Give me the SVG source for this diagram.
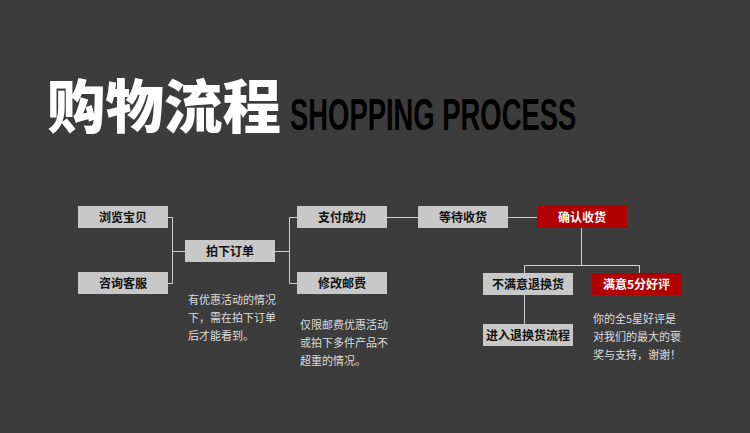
<svg xmlns="http://www.w3.org/2000/svg" width="750" height="433" viewBox="0 0 750 433">
<style>
.bx{fill:#c8c8c8}
.rd{fill:#b20000}
.bt{font-family:"Noto Sans CJK SC","Liberation Sans",sans-serif;font-size:12px;font-weight:bold;fill:#111;text-anchor:middle}
.rt{fill:#fff}
.nt{font-family:"Noto Sans CJK SC","Liberation Sans",sans-serif;font-size:11px;fill:#ddd}
.ln{fill:none;stroke:#cfcfcf;stroke-width:1}
</style>
<rect width="750" height="433" fill="#3c3c3c"/>
<text x="47" y="128" font-family="Noto Sans CJK SC, sans-serif" font-size="58" font-weight="900" fill="#fff" textLength="234" lengthAdjust="spacingAndGlyphs">购物流程</text>
<text transform="translate(290,130) scale(0.609,1)" x="0" y="0" font-family="Liberation Sans, sans-serif" font-size="45" font-weight="bold" fill="#000">SHOPPING PROCESS</text>
<g id="connectors" class="ln">
<path d="M168 217.5H172.5V283.5H168M172.5 251.5H185"/>
<path d="M275 251.5H289.5M297 217.5H289.5V283.5H297"/>
<path d="M387 217.5H418M508 217.5H537"/>
<path d="M581.5 228V265.5M524.5 273V265.5H639.5V273M524.5 294V324"/>
</g>
<g id="n1"><rect class="bx" x="78" y="206" width="90" height="22"/><text class="bt" x="123" y="221.5">浏览宝贝</text></g>
<g id="n2"><rect class="bx" x="78" y="272" width="90" height="22"/><text class="bt" x="123" y="287.5">咨询客服</text></g>
<g id="n3"><rect class="bx" x="185" y="240" width="90" height="22"/><text class="bt" x="230" y="255.5">拍下订单</text></g>
<g id="n4"><rect class="bx" x="297" y="206" width="90" height="22"/><text class="bt" x="342" y="221.5">支付成功</text></g>
<g id="n5"><rect class="bx" x="297" y="272" width="90" height="22"/><text class="bt" x="342" y="287.5">修改邮费</text></g>
<g id="n6"><rect class="bx" x="418" y="206" width="90" height="22"/><text class="bt" x="463" y="221.5">等待收货</text></g>
<g id="n7"><rect class="rd" x="537" y="206" width="90" height="22"/><text class="bt rt" x="582" y="221.5">确认收货</text></g>
<g id="n8"><rect class="bx" x="483" y="273" width="90" height="22"/><text class="bt" x="528" y="288.5">不满意退换货</text></g>
<g id="n9"><rect class="rd" x="592" y="273" width="89" height="22"/><text class="bt rt" x="636.5" y="288.5">满意5分好评</text></g>
<g id="n10"><rect class="bx" x="483" y="324" width="90" height="22"/><text class="bt" x="528" y="339.5">进入退换货流程</text></g>
<g id="note1" class="nt"><text x="188" y="304">有优惠活动的情况</text><text x="188" y="322">下，需在拍下订单</text><text x="188" y="340">后才能看到。</text></g>
<g id="note2" class="nt"><text x="300" y="329">仅限邮费优惠活动</text><text x="300" y="347">或拍下多件产品不</text><text x="300" y="365">超重的情况。</text></g>
<g id="note3" class="nt"><text x="593" y="323">你的全5星好评是</text><text x="593" y="341">对我们的最大的褒</text><text x="593" y="359">奖与支持，谢谢！</text></g>
</svg>
